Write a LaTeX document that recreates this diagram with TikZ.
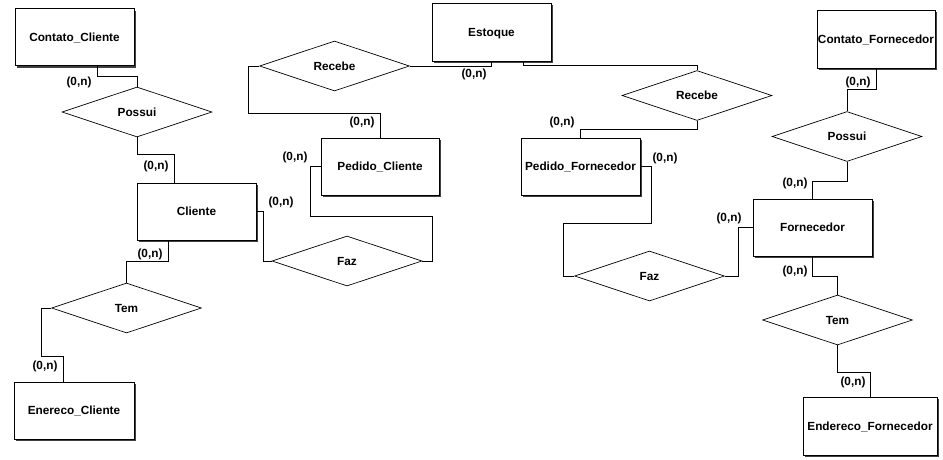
\documentclass[tikz,border=0pt]{standalone}
\usepackage{fontspec}
\setmainfont{Liberation Sans}
\usetikzlibrary{shapes.geometric,shadows}
\begin{document}
\begin{tikzpicture}[x=1pt,y=-1pt,
  every node/.style={font=\fontsize{11.8}{14}\selectfont\bfseries},
  ent/.style={draw,line width=0.8pt,fill=white,rectangle,inner sep=0pt,
    text height=8.5pt,text depth=0pt,
    minimum width=119pt,minimum height=57pt,
    drop shadow={shadow xshift=2pt,shadow yshift=-2pt,fill=black!75,opacity=1}},
  rel/.style={draw,line width=0.7pt,fill=white,diamond,shape aspect=3,inner sep=0pt,
    text height=8.5pt,text depth=0pt,
    minimum width=150pt,minimum height=50pt},
  card/.style={inner sep=0pt},
  conn/.style={draw,line width=0.8pt}]
\fill[white] (0,0) rectangle (943,459);
\useasboundingbox (0,0) rectangle (943,459);
% entities
\node[ent] (cc) at (74.5,37) {Contato\_Cliente};
\node[ent] (cli) at (196.5,211.5) {Cliente};
\node[ent,minimum width=120pt] (ec) at (74,410.5) {Enereco\_Cliente};
\node[ent,minimum height=58pt] (est) at (491.5,32) {Estoque};
\node[ent,minimum width=118pt] (pcl) at (380,166.5) {Pedido\_Cliente};
\node[ent] (pf) at (580.5,166.5) {Pedido\_Fornecedor};
\node[ent,minimum width=118pt,minimum height=58pt] (cf) at (876,39) {Contato\_Fornecedor};
\node[ent] (forn) at (812.5,227.5) {Fornecedor};
\node[ent,minimum width=134pt,minimum height=58pt] (ef) at (870,426) {Endereco\_Fornecedor};
% relationships
\node[rel] (pC) at (137,112) {Possui};
\node[rel] (recC) at (334.5,66) {Recebe};
\node[rel] (fazC) at (347,261) {Faz};
\node[rel] (temC) at (126.5,308) {Tem};
\node[rel] (recF) at (697,95.5) {Recebe};
\node[rel] (fazF) at (649.5,276) {Faz};
\node[rel] (pF) at (847,136.5) {Possui};
\node[rel] (temF) at (837.5,320) {Tem};
% connectors
\draw[conn] ([xshift=22.5pt]cc.south) |- ([yshift=10pt]pC.north) -- (pC.north);
\draw[conn] (pC.south) -- ++(0,17) -| ([xshift=-22.5pt]cli.north);
\draw[conn] (cli.east) -- ++(7,0) |- (fazC.west);
\draw[conn] ([xshift=-28.5pt]cli.south) -- ++(0,21) -| (temC.north);
\draw[conn] (temC.west) -- ++(-10,0) |- ([xshift=-11pt,yshift=25pt]ec.north) -- ([xshift=-11pt]ec.north);
\draw[conn] (recC.west) -- ++(-11,0) |- ([yshift=24pt]pcl.north) -- (pcl.north);
\draw[conn] (recC.east) -| (est.south);
\draw[conn] ([xshift=31.5pt]est.south) -- ++(0,4) -| (recF.north);
\draw[conn] (recF.south) -- ++(0,9) -| (pf.north);
\draw[conn] (pcl.west) -- ++(-10,0) -- ++(0,49.5) -| ([xshift=10pt]fazC.east) -- (fazC.east);
\draw[conn] (pf.east) -- ++(11,0) -- ++(0,56.5) -| ([xshift=-11pt]fazF.west) -- (fazF.west);
\draw[conn] (fazF.east) -- ++(14,0) |- (forn.west);
\draw[conn] (cf.south) -- ++(0,21) -| (pF.north);
\draw[conn] (pF.south) -- ++(0,20) -| (forn.north);
\draw[conn] (forn.south) -- ++(0,20) -| (temF.north);
\draw[conn] (temF.south) -- ++(0,27) -| (ef.north);
% cardinalities
\node[card] (l1) at (79,82) {(0,n)};
\node[card] (l2) at (156,166) {(0,n)};
\node[card] (l3) at (281,202) {(0,n)};
\node[card] (l4) at (150,254) {(0,n)};
\node[card] (l5) at (45,366) {(0,n)};
\node[card] (l6) at (362,122) {(0,n)};
\node[card] (l7) at (474,74) {(0,n)};
\node[card] (l8) at (562,122) {(0,n)};
\node[card] (l9) at (295,157) {(0,n)};
\node[card] (l10) at (665,158) {(0,n)};
\node[card] (l11) at (729,218) {(0,n)};
\node[card] (l12) at (858,82) {(0,n)};
\node[card] (l13) at (795,183) {(0,n)};
\node[card] (l14) at (795,271) {(0,n)};
\node[card] (l15) at (853,382) {(0,n)};
\end{tikzpicture}
\end{document}
